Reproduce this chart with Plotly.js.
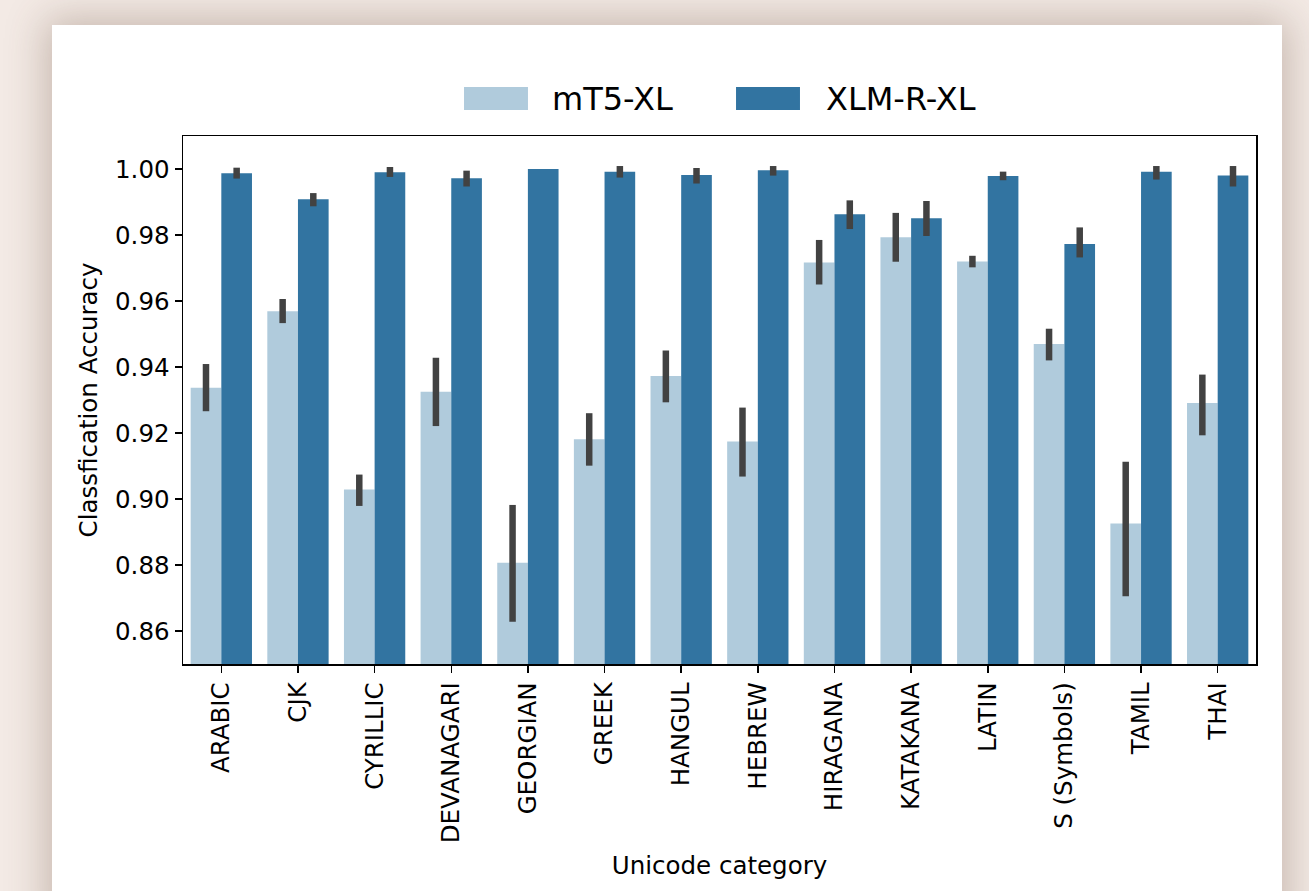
<!DOCTYPE html>
<html>
<head>
<meta charset="utf-8">
<script src="https://cdn.plot.ly/plotly-3.0.1.min.js"></script>
<style>
  html, body { margin: 0; padding: 0; width: 1309px; height: 891px; overflow: hidden; background: #f3eae5; }
  #card { position: absolute; left: 52px; top: 25px; width: 1230px; height: 900px; background: #ffffff;
          box-shadow: 0 0 38px 6px rgba(95, 65, 45, 0.30); }
  #chart { position: absolute; left: 0; top: 0; width: 1309px; height: 891px; }
</style>
</head>
<body>
<div id="card"></div>
<div id="chart"></div>
<script>
const categories = ["ARABIC", "CJK", "CYRILLIC", "DEVANAGARI", "GEORGIAN", "GREEK", "HANGUL",
                    "HEBREW", "HIRAGANA", "KATAKANA", "LATIN", "S (Symbols)", "TAMIL", "THAI"];
const seriesNames = ["mT5-XL", "XLM-R-XL"];

const mt5   = [0.9337, 0.9569, 0.9029, 0.9325, 0.8807, 0.9181, 0.9373, 0.9174, 0.9717, 0.9793, 0.9720, 0.9470, 0.8926, 0.9291];
const mt5Lo = [0.9266, 0.9533, 0.8979, 0.9221, 0.8628, 0.9101, 0.9293, 0.9068, 0.9650, 0.9719, 0.9702, 0.9420, 0.8705, 0.9193];
const mt5Hi = [0.9409, 0.9606, 0.9074, 0.9428, 0.8982, 0.9260, 0.9450, 0.9277, 0.9785, 0.9867, 0.9737, 0.9516, 0.9113, 0.9377];

const xlm   = [0.9987, 0.9908, 0.9990, 0.9972, 1.0000, 0.9992, 0.9982, 0.9996, 0.9863, 0.9851, 0.9979, 0.9773, 0.9992, 0.9980];
const xlmLo = [0.9971, 0.9887, 0.9976, 0.9947, 1.0000, 0.9974, 0.9956, 0.9980, 0.9818, 0.9797, 0.9966, 0.9732, 0.9968, 0.9947];
const xlmHi = [1.0004, 0.9927, 1.0006, 0.9995, 1.0000, 1.0009, 1.0003, 1.0009, 0.9905, 0.9903, 0.9992, 0.9823, 1.0009, 1.0009];

const yTicks = [0.86, 0.88, 0.90, 0.92, 0.94, 0.96, 0.98, 1.00];

const colors = ["#b0cbdc", "#3274a1"];
const errColor = "#424242";
const FONT = "DejaVu Sans, Liberation Sans, sans-serif";
const FS = 24.5;

function makeTrace(name, vals, lo, hi, color) {
  return {
    type: "bar",
    name: name,
    x: categories,
    y: vals,
    marker: { color: color, line: { width: 0 } },
    error_y: {
      type: "data",
      symmetric: false,
      array: vals.map((v, i) => hi[i] - v),
      arrayminus: vals.map((v, i) => v - lo[i]),
      color: errColor,
      thickness: 6.5,
      width: 0
    },
    showlegend: false,
    hoverinfo: "x+y"
  };
}

const traces = [
  makeTrace(seriesNames[0], mt5, mt5Lo, mt5Hi, colors[0]),
  makeTrace(seriesNames[1], xlm, xlmLo, xlmHi, colors[1])
];

// Custom legend (large swatches like the reference)
const legendShapes = [
  { type: "rect", xref: "paper", yref: "paper", x0: 0.2619, x1: 0.3215, y0: 1.0492, y1: 1.0928,
    fillcolor: colors[0], line: { width: 0 } },
  { type: "rect", xref: "paper", yref: "paper", x0: 0.5154, x1: 0.5750, y0: 1.0492, y1: 1.0928,
    fillcolor: colors[1], line: { width: 0 } }
];
const legendTexts = [
  { text: seriesNames[0], xref: "paper", yref: "paper", x: 0.3424, y: 1.071, xanchor: "left", yanchor: "middle",
    showarrow: false, font: { family: FONT, size: 32, color: "#000" } },
  { text: seriesNames[1], xref: "paper", yref: "paper", x: 0.5970, y: 1.071, xanchor: "left", yanchor: "middle",
    showarrow: false, font: { family: FONT, size: 32, color: "#000" } }
];

const layout = {
  width: 1309,
  height: 891,
  paper_bgcolor: "rgba(0,0,0,0)",
  plot_bgcolor: "#ffffff",
  margin: { l: 183, r: 53, t: 136, b: 227, pad: 0 },
  barmode: "group",
  bargap: 0.2,
  bargroupgap: 0,
  font: { family: FONT, size: FS, color: "#000" },
  showlegend: false,
  xaxis: {
    type: "category",
    tickangle: -90,
    ticks: "outside",
    ticklen: 7,
    tickwidth: 1.5,
    tickcolor: "#000",
    showline: true,
    linecolor: "#000",
    linewidth: 1.5,
    mirror: true,
    showgrid: false,
    zeroline: false,
    tickfont: { family: FONT, size: FS, color: "#000" },
    title: { text: "Unicode category", font: { family: FONT, size: FS, color: "#000" }, standoff: 14 }
  },
  yaxis: {
    range: [0.85, 1.01],
    tickvals: yTicks,
    tickformat: ".2f",
    ticks: "outside",
    ticklen: 7,
    tickwidth: 1.5,
    tickcolor: "#000",
    showline: true,
    linecolor: "#000",
    linewidth: 1.5,
    mirror: true,
    showgrid: false,
    zeroline: false,
    tickfont: { family: FONT, size: FS, color: "#000" },
    title: { text: "Classfication Accuracy", font: { family: FONT, size: FS, color: "#000" }, standoff: 10 }
  },
  shapes: legendShapes,
  annotations: legendTexts
};

Plotly.newPlot("chart", traces, layout, { displayModeBar: false, staticPlot: true });
</script>
</body>
</html>
